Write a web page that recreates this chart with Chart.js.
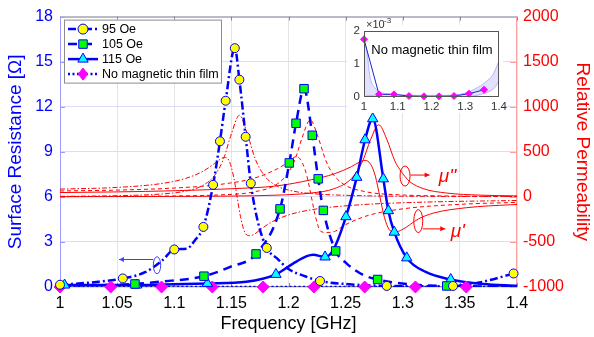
<!DOCTYPE html>
<html>
<head>
<meta charset="utf-8">
<script src="https://cdn.jsdelivr.net/npm/chart.js@4.4.0/dist/chart.umd.min.js"></script>
<style>
  html, body { margin: 0; padding: 0; background: #fff; }
  #wrap { position: relative; width: 594px; height: 337px; }
  #main { position: absolute; left: 0; top: 0; }
  #inset { position: absolute; left: 338px; top: 16px; }
</style>
</head>
<body>
<div id="wrap">
  <canvas id="main" width="594" height="337"></canvas>
  <canvas id="inset" width="172" height="97"></canvas>
</div>
<script>
// ---- Surface resistance (Ohm), markers ----
const f95Mk = [1.0, 1.055, 1.1, 1.1255, 1.134, 1.14, 1.145, 1.153, 1.157, 1.1625, 1.167, 1.181, 1.2276, 1.286, 1.344, 1.397];
const r95Mk = [0.15, 0.57, 2.5, 4.0, 6.8, 9.7, 12.4, 15.9, 13.8, 10.0, 6.9, 2.6, 0.4, 0.07, 0.07, 0.9];
const f105Mk = [1.0656, 1.126, 1.1716, 1.1926, 1.2007, 1.2066, 1.2136, 1.2208, 1.226, 1.2305, 1.2413, 1.278, 1.3385];
const r105Mk = [0.2, 0.72, 2.2, 5.2, 8.26, 10.9, 13.2, 10.1, 7.2, 5.1, 2.4, 0.5, 0.07];
const f115Mk = [1.004, 1.067, 1.129, 1.189, 1.232, 1.2503, 1.2597, 1.267, 1.2737, 1.283, 1.2874, 1.2926, 1.3035, 1.342];
const r115Mk = [0.13, 0.13, 0.24, 0.84, 2.0, 4.68, 7.3, 9.8, 11.2, 7.2, 5.08, 3.65, 1.94, 0.5];
// sin pelicula magnetica (valores x10^-3 Ohm)
const fNoMk = [1.0, 1.0444, 1.0889, 1.1333, 1.1778, 1.2222, 1.2667, 1.3111, 1.3556];
const rNoMk = [1.75, 0.08, 0.08, 0.03, 0.02, 0.02, 0.03, 0.1, 0.22];

// ---- Surface resistance, curves ----
const f95Ln = [1.0, 1.03, 1.055, 1.075, 1.09, 1.1, 1.111, 1.118, 1.1255, 1.134, 1.14, 1.145, 1.153, 1.157, 1.1625, 1.167, 1.173, 1.181, 1.19, 1.2, 1.215, 1.2276, 1.25, 1.286, 1.32, 1.344, 1.37, 1.397];
const r95Ln = [0.15, 0.32, 0.57, 1.0, 1.8, 2.5, 2.55, 3.1, 4.0, 6.8, 9.7, 12.4, 15.9, 13.8, 10.0, 6.9, 4.4, 2.6, 1.9, 1.2, 0.7, 0.4, 0.2, 0.07, 0.05, 0.07, 0.35, 0.9];
const f105Ln = [1.0, 1.0656, 1.0875, 1.126, 1.149, 1.1716, 1.1926, 1.2007, 1.2066, 1.2136, 1.2208, 1.226, 1.2305, 1.2413, 1.251, 1.2655, 1.278, 1.3035, 1.3385, 1.4];
const r105Ln = [0.1, 0.2, 0.35, 0.72, 1.34, 2.2, 5.2, 8.26, 10.9, 13.2, 10.1, 7.2, 5.1, 2.4, 1.56, 0.8, 0.5, 0.2, 0.07, 0.03];
const f115Ln = [1.0, 1.004, 1.067, 1.1, 1.129, 1.163, 1.189, 1.204, 1.216, 1.2215, 1.232, 1.239, 1.2503, 1.2597, 1.267, 1.2737, 1.283, 1.2874, 1.2926, 1.3035, 1.32, 1.342, 1.37, 1.4];
const r115Ln = [0.12, 0.13, 0.13, 0.18, 0.24, 0.35, 0.84, 1.56, 2.05, 2.15, 2.0, 2.44, 4.68, 7.3, 9.8, 11.2, 7.2, 5.08, 3.65, 1.94, 1.0, 0.5, 0.2, 0.08];
const fNoLn = [1.0, 1.0444, 1.0889, 1.1333, 1.1778, 1.2222, 1.2667, 1.3111, 1.3556, 1.4];
const rNoLn = [1.75, 0.08, 0.08, 0.03, 0.02, 0.02, 0.03, 0.1, 0.22, 0.8];

// ---- banda de ruido del inserto (x10^-3) ----
const fBanda = [1.0, 1.004, 1.008, 1.018, 1.032, 1.047, 1.07, 1.1, 1.15, 1.2, 1.25, 1.3, 1.33, 1.36, 1.38, 1.39, 1.4];
const bandaAlta = [1.75, 1.6, 1.42, 0.6, 0.28, 0.15, 0.1, 0.07, 0.05, 0.05, 0.05, 0.12, 0.25, 0.45, 0.65, 0.85, 1.1];
const bandaBaja = [0.0, 0.0, 0.05, 0.05, 0.03, 0.02, 0.01, 0.0, 0.0, 0.0, 0.0, 0.01, 0.04, 0.12, 0.22, 0.32, 0.5];

// ---- Relative permeability (mu' y mu'') ----
const fMu1_95 = [1.0, 1.05, 1.09, 1.11, 1.125, 1.135, 1.14, 1.144, 1.148, 1.152, 1.155, 1.158, 1.162, 1.166, 1.17, 1.175, 1.185, 1.2, 1.22, 1.26, 1.32, 1.4];
const mu1_95 = [86, 105, 150, 205, 283, 367, 415, 438, 400, 221, 0, -221, -400, -430, -415, -367, -281, -201, -143, -90, -58, -40];
const fMu2_95 = [1.0, 1.05, 1.09, 1.11, 1.125, 1.135, 1.143, 1.15, 1.157, 1.164, 1.171, 1.179, 1.189, 1.204, 1.224, 1.26, 1.32, 1.4];
const mu2_95 = [6, 13, 33, 64, 127, 233, 417, 698, 905, 698, 417, 233, 127, 64, 33, 14, 6, 3];
const fMu1_105 = [1.0, 1.05, 1.1, 1.14, 1.17, 1.19, 1.2, 1.207, 1.212, 1.216, 1.22, 1.224, 1.228, 1.233, 1.24, 1.25, 1.27, 1.3, 1.35, 1.4];
const mu1_105 = [66, 75, 98, 138, 208, 310, 388, 448, 380, 237, 0, -237, -380, -395, -385, -308, -205, -133, -83, -61];
const fMu2_105 = [1.0, 1.05, 1.1, 1.14, 1.17, 1.19, 1.2, 1.206, 1.212, 1.219, 1.226, 1.232, 1.238, 1.248, 1.268, 1.298, 1.338, 1.4];
const mu2_105 = [3, 5, 10, 22, 56, 142, 271, 425, 659, 854, 659, 425, 271, 142, 56, 22, 10, 4];
const fMu1_115 = [1.0, 1.05, 1.1, 1.15, 1.19, 1.22, 1.24, 1.255, 1.262, 1.267, 1.272, 1.276, 1.28, 1.284, 1.288, 1.293, 1.3, 1.3137, 1.3268, 1.356, 1.394, 1.4];
const mu1_115 = [48, 55, 68, 90, 122, 190, 255, 335, 385, 405, 360, 230, 0, -230, -360, -392, -360, -245, -180, -120, -88, -85];
const fMu2_115 = [1.0, 1.1, 1.15, 1.19, 1.22, 1.24, 1.255, 1.265, 1.272, 1.279, 1.286, 1.293, 1.2976, 1.302, 1.306, 1.318, 1.338, 1.368, 1.4];
const mu2_115 = [2, 5, 9, 19, 43, 91, 203, 400, 640, 800, 640, 400, 300, 225, 170, 91, 43, 19, 11];

const AZUL = "#0000ff";
const ROJO = "#ff0000";
const FUENTE = '"Liberation Sans", Arial, sans-serif';
Chart.defaults.font.family = FUENTE;

// juntar arreglos en puntos {x, y}
function puntos(fs, vs, escala) {
  return fs.map((f, i) => ({ x: f, y: escala ? vs[i] * escala : vs[i] }));
}

function linea(fs, vs, color, ancho, dash, eje, orden, escala) {
  return {
    data: puntos(fs, vs, escala), yAxisID: eje, borderColor: color, borderWidth: ancho,
    borderDash: dash, pointRadius: 0, fill: false, cubicInterpolationMode: "monotone", order: orden
  };
}

function marcadores(fs, vs, estilo, radio, fondo, borde, escala) {
  return {
    data: puntos(fs, vs, escala), yAxisID: "y", showLine: false, pointStyle: estilo, pointRadius: radio,
    pointBackgroundColor: fondo, pointBorderColor: borde, pointBorderWidth: 1, clip: false, order: 0
  };
}

// dibujar un marcador a mano (para la leyenda)
function dibujarMarcador(ctx, estilo, x, y, r, fondo, borde) {
  ctx.save();
  ctx.setLineDash([]);
  ctx.fillStyle = fondo;
  ctx.strokeStyle = borde;
  ctx.lineWidth = 1;
  ctx.beginPath();
  if (estilo === "circle") {
    ctx.arc(x, y, r, 0, Math.PI * 2);
  } else if (estilo === "rect") {
    const s = r * Math.SQRT1_2;
    ctx.rect(x - s, y - s, 2 * s, 2 * s);
  } else if (estilo === "triangle") {
    ctx.moveTo(x, y - r);
    ctx.lineTo(x + r * 0.866, y + r * 0.5);
    ctx.lineTo(x - r * 0.866, y + r * 0.5);
    ctx.closePath();
  } else {
    ctx.moveTo(x, y - r);
    ctx.lineTo(x + r * 0.8, y);
    ctx.lineTo(x, y + r);
    ctx.lineTo(x - r * 0.8, y);
    ctx.closePath();
  }
  ctx.fill();
  ctx.stroke();
  ctx.restore();
}

const leyenda = [
  { texto: "95 Oe", dash: [8, 3, 2, 3], estilo: "circle", fondo: "#ffff00", borde: AZUL, r: 5 },
  { texto: "105 Oe", dash: [9, 6], estilo: "rect", fondo: "#00ff00", borde: AZUL, r: 6 },
  { texto: "115 Oe", dash: [], estilo: "triangle", fondo: "#00ffff", borde: AZUL, r: 6 },
  { texto: "No magnetic thin film", dash: [2, 2.5], estilo: "diamond", fondo: "#ff00ff", borde: "#ff00ff", r: 6 }
];

// marco estilo Matlab + marcas de ticks hacia adentro
const marcoPlugin = {
  id: "marco",
  beforeDatasetsDraw(chart) {
    const { ctx, chartArea: a, scales } = chart;
    ctx.save();
    ctx.lineWidth = 1;
    ctx.strokeStyle = "#8c8c8c";
    ctx.beginPath();
    ctx.moveTo(a.left, a.top + 0.5); ctx.lineTo(a.right, a.top + 0.5);
    ctx.moveTo(a.left, a.bottom - 0.5); ctx.lineTo(a.right, a.bottom - 0.5);
    scales.x.ticks.forEach(t => {
      const px = Math.round(scales.x.getPixelForValue(t.value)) + 0.5;
      ctx.moveTo(px, a.top); ctx.lineTo(px, a.top + 4);
      ctx.moveTo(px, a.bottom); ctx.lineTo(px, a.bottom - 4);
    });
    ctx.stroke();
    ctx.strokeStyle = "#9a9aff";
    ctx.beginPath();
    ctx.moveTo(a.left + 0.5, a.top); ctx.lineTo(a.left + 0.5, a.bottom);
    scales.y.ticks.forEach(t => {
      const py = Math.round(scales.y.getPixelForValue(t.value)) + 0.5;
      ctx.moveTo(a.left, py); ctx.lineTo(a.left + 5, py);
    });
    ctx.stroke();
    ctx.strokeStyle = "#ffa0a0";
    ctx.beginPath();
    ctx.moveTo(a.right - 0.5, a.top); ctx.lineTo(a.right - 0.5, a.bottom);
    scales.y2.ticks.forEach(t => {
      const py = Math.round(scales.y2.getPixelForValue(t.value)) + 0.5;
      ctx.moveTo(a.right, py); ctx.lineTo(a.right - 7, py);
    });
    ctx.stroke();
    ctx.restore();
  }
};

function flecha(ctx, x1, y, x2) {
  const dir = x2 > x1 ? 1 : -1;
  ctx.beginPath();
  ctx.moveTo(x1, y); ctx.lineTo(x2, y);
  ctx.stroke();
  ctx.beginPath();
  ctx.moveTo(x2, y); ctx.lineTo(x2 - dir * 5, y - 2.5); ctx.lineTo(x2 - dir * 5, y + 2.5);
  ctx.closePath();
  ctx.fill();
}

// elipses, flechas, etiquetas mu y leyenda
const notasPlugin = {
  id: "notas",
  afterDatasetsDraw(chart) {
    const { ctx, chartArea: a, scales } = chart;
    const X = v => scales.x.getPixelForValue(v);
    const Y = v => scales.y.getPixelForValue(v);
    const Y2 = v => scales.y2.getPixelForValue(v);
    ctx.save();
    ctx.lineWidth = 1;
    // elipse azul -> eje izquierdo
    ctx.strokeStyle = "#4040ff"; ctx.fillStyle = "#4040ff";
    ctx.beginPath(); ctx.ellipse(X(1.0849), Y(1.45), 3.7, 8.5, 0, 0, Math.PI * 2); ctx.stroke();
    flecha(ctx, X(1.0817), Y(1.83), X(1.0516));
    // mu''
    ctx.strokeStyle = ROJO; ctx.fillStyle = ROJO;
    ctx.beginPath(); ctx.ellipse(X(1.302), Y2(231), 5, 10, 0, 0, Math.PI * 2); ctx.stroke();
    flecha(ctx, X(1.3068), Y2(242), X(1.3235));
    // mu'
    ctx.beginPath(); ctx.ellipse(X(1.3136), Y2(-269), 4.5, 11.5, 0, 0, Math.PI * 2); ctx.stroke();
    flecha(ctx, X(1.3175), Y2(-355), X(1.3372));
    ctx.font = 'italic 19px ' + FUENTE;
    ctx.textBaseline = "middle";
    ctx.textAlign = "left";
    ctx.fillText("\u03bc''", X(1.3315), Y2(225));
    ctx.fillText("\u03bc'", X(1.342), Y2(-385));

    // leyenda
    const bx = a.left + 4, by = a.top + 3, bw = 157, bh = 63;
    ctx.fillStyle = "#fff";
    ctx.fillRect(bx, by, bw, bh);
    ctx.strokeStyle = "#8c8c8c";
    ctx.strokeRect(bx + 0.5, by + 0.5, bw, bh);
    ctx.font = "12.5px " + FUENTE;
    leyenda.forEach((e, i) => {
      const yy = by + 9.5 + i * 15;
      ctx.strokeStyle = AZUL;
      ctx.lineWidth = 2.5;
      ctx.setLineDash(e.dash);
      ctx.beginPath(); ctx.moveTo(bx + 4, yy); ctx.lineTo(bx + 34, yy); ctx.stroke();
      ctx.setLineDash([]);
      dibujarMarcador(ctx, e.estilo, bx + 19, yy, e.r, e.fondo, e.borde);
      ctx.fillStyle = "#000";
      ctx.fillText(e.texto, bx + 38, yy + 0.5);
    });
    ctx.restore();
  }
};

const rojoDD = [5, 2, 1.5, 2];
const rojoD = [4, 3];

new Chart(document.getElementById("main"), {
  type: "line",
  data: {
    datasets: [
      marcadores(f95Mk, r95Mk, "circle", 4.5, "#ffff00", AZUL),
      marcadores(f105Mk, r105Mk, "rect", 6, "#00ff00", AZUL),
      marcadores(f115Mk, r115Mk, "triangle", 6, "#00ffff", AZUL),
      marcadores(fNoMk, rNoMk, "rectRot", 6, "#ff00ff", "#ff00ff", 1e-3),
      linea(fNoLn, rNoLn, AZUL, 2.5, [2, 2.5], "y", 1, 1e-3),
      linea(f95Ln, r95Ln, AZUL, 2.5, [8, 3, 2, 3], "y", 1),
      linea(f105Ln, r105Ln, AZUL, 2.5, [9, 6], "y", 1),
      linea(f115Ln, r115Ln, AZUL, 2.5, [], "y", 1),
      linea(fMu1_95, mu1_95, ROJO, 1, rojoDD, "y2", 2),
      linea(fMu2_95, mu2_95, ROJO, 1, rojoDD, "y2", 2),
      linea(fMu1_105, mu1_105, ROJO, 1, rojoD, "y2", 2),
      linea(fMu2_105, mu2_105, ROJO, 1, rojoD, "y2", 2),
      linea(fMu1_115, mu1_115, ROJO, 1, [], "y2", 2),
      linea(fMu2_115, mu2_115, ROJO, 1, [], "y2", 2)
    ]
  },
  options: {
    responsive: false,
    animation: false,
    events: [],
    layout: { padding: { top: 14, left: 0, right: 0, bottom: 0 } },
    plugins: { legend: { display: false }, tooltip: { enabled: false } },
    scales: {
      x: {
        type: "linear", min: 1, max: 1.4,
        ticks: { stepSize: 0.05, color: "#000", font: { size: 16 }, padding: 7,
          callback: v => String(Math.round(v * 100) / 100) },
        grid: { color: "#e3e3ea", drawTicks: false },
        border: { display: false },
        title: { display: true, text: "Frequency [GHz]", color: "#000", font: { size: 18 }, padding: { top: 0, bottom: 2 } },
        afterFit: s => { s.height = 50; }
      },
      y: {
        position: "left", min: 0, max: 18,
        ticks: { stepSize: 3, color: AZUL, font: { size: 16 }, padding: 7 },
        grid: { color: "#dcdcf5", drawTicks: false },
        border: { display: false },
        title: { display: true, text: "Surface Resistance [\u03a9]", color: AZUL, font: { size: 19 }, padding: { top: 4, bottom: 0 } },
        afterFit: s => { s.width = 60; }
      },
      y2: {
        position: "right", min: -1000, max: 2000,
        ticks: { stepSize: 500, color: ROJO, font: { size: 16 }, padding: 6, callback: v => String(v) },
        grid: { display: false, drawTicks: false },
        border: { display: false },
        title: { display: true, text: "Relative Permeability", color: ROJO, font: { size: 19 }, padding: { top: 0, bottom: 0 } },
        afterFit: s => { s.width = 77; }
      }
    }
  },
  plugins: [marcoPlugin, notasPlugin]
});

// ---- grafico insertado ----
const insetPlugin = {
  id: "insetFondo",
  beforeDraw(chart) {
    const { ctx } = chart;
    ctx.save();
    ctx.fillStyle = "#fff";
    ctx.fillRect(9, 9, 156, 88);
    ctx.restore();
  },
  afterDraw(chart) {
    const { ctx, chartArea: a } = chart;
    ctx.save();
    ctx.strokeStyle = "#555";
    ctx.lineWidth = 1;
    ctx.strokeRect(a.left + 0.5, a.top + 0.5, a.right - a.left - 1, a.bottom - a.top - 1);
    ctx.fillStyle = "#333";
    ctx.textBaseline = "alphabetic";
    ctx.font = "11px " + FUENTE;
    ctx.fillText("\u00d710", a.left + 2, a.top - 3);
    ctx.font = "8px " + FUENTE;
    ctx.fillText("-3", a.left + 20, a.top - 8);
    ctx.fillStyle = "#000";
    ctx.font = "13px " + FUENTE;
    ctx.textAlign = "center";
    ctx.textBaseline = "middle";
    ctx.fillText("No magnetic thin film", (a.left + a.right) / 2 + 0.5, a.top + 19);
    ctx.restore();
  }
};

new Chart(document.getElementById("inset"), {
  type: "line",
  data: {
    datasets: [
      { data: puntos(fNoMk, rNoMk), showLine: false, pointStyle: "rectRot", pointRadius: 3.5,
        pointBackgroundColor: "#ff00ff", pointBorderColor: "#ff00ff", clip: false, order: 0 },
      { data: puntos(fNoMk, rNoMk), borderColor: "#2020d0", borderWidth: 1, pointRadius: 0, order: 1 },
      { data: puntos(fBanda, bandaAlta), borderColor: "rgba(140,140,255,0.6)", borderWidth: 1, pointRadius: 0,
        fill: "+1", backgroundColor: "rgba(160,160,255,0.3)", cubicInterpolationMode: "monotone", order: 2 },
      { data: puntos(fBanda, bandaBaja), borderColor: "rgba(140,140,255,0.6)", borderWidth: 1, pointRadius: 0,
        fill: false, cubicInterpolationMode: "monotone", order: 2 }
    ]
  },
  options: {
    responsive: false,
    animation: false,
    events: [],
    layout: { padding: { top: 15, right: 10, left: 0, bottom: 0 } },
    plugins: { legend: { display: false }, tooltip: { enabled: false } },
    scales: {
      x: {
        type: "linear", min: 1, max: 1.4,
        ticks: { stepSize: 0.1, color: "#333", font: { size: 11.5 }, padding: 3,
          callback: v => String(Math.round(v * 10) / 10) },
        grid: { display: false, drawTicks: false },
        border: { display: false },
        afterFit: s => { s.height = 16; }
      },
      y: {
        min: 0, max: 2,
        ticks: { stepSize: 1, color: "#333", font: { size: 11.5 }, padding: 4 },
        grid: { display: false, drawTicks: false },
        border: { display: false },
        afterFit: s => { s.width = 26; }
      }
    }
  },
  plugins: [insetPlugin]
});
</script>
</body>
</html>
